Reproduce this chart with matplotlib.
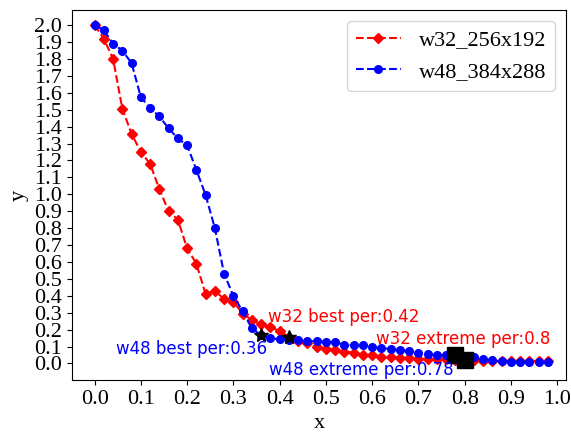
import numpy as np
import matplotlib
matplotlib.use('Agg')
import matplotlib.pyplot as plt

# per ratio grid
x = [0.00, 0.02, 0.04, 0.06, 0.08, 0.10, 0.12, 0.14, 0.16, 0.18,
     0.20, 0.22, 0.24, 0.26, 0.28, 0.30, 0.32, 0.34, 0.36, 0.38,
     0.40, 0.42, 0.44, 0.46, 0.48, 0.50, 0.52, 0.54, 0.56, 0.58,
     0.60, 0.62, 0.64, 0.66, 0.68, 0.70, 0.72, 0.74, 0.76, 0.78,
     0.80, 0.82, 0.84, 0.86, 0.88, 0.90, 0.92, 0.94, 0.96, 0.98]

y_w32 = [2.0, 1.92, 1.80, 1.505, 1.357, 1.25, 1.18, 1.03, 0.90, 0.85,
         0.68, 0.59, 0.41, 0.43, 0.38, 0.365, 0.295, 0.256, 0.232, 0.213,
         0.193, 0.157, 0.133, 0.118, 0.095, 0.085, 0.079, 0.069, 0.064, 0.050,
         0.047, 0.040, 0.039, 0.034, 0.030, 0.029, 0.026, 0.025, 0.024, 0.022,
         0.020, 0.018, 0.017, 0.016, 0.015, 0.014, 0.013, 0.013, 0.012, 0.012]

y_w48 = [2.0, 1.97, 1.89, 1.85, 1.775, 1.574, 1.51, 1.46, 1.39, 1.33,
         1.29, 1.145, 0.996, 0.80, 0.53, 0.40, 0.308, 0.207, 0.167, 0.148,
         0.143, 0.140, 0.138, 0.132, 0.131, 0.128, 0.125, 0.110, 0.108, 0.110,
         0.098, 0.089, 0.087, 0.077, 0.071, 0.062, 0.053, 0.050, 0.049, 0.052,
         0.045, 0.035, 0.025, 0.018, 0.012, 0.011, 0.010, 0.010, 0.010, 0.010]

w32_best, w32_extreme = 0.42, 0.80
w48_best, w48_extreme = 0.36, 0.78

serif = 'Liberation Serif'

fig = plt.figure(figsize=(5.71, 4.32), dpi=100)
ax = fig.add_axes([0.126, 0.120, 0.865, 0.857])

ax.plot(x, y_w32, 'r--', marker='D', ms=5, label='w32_256x192')
ax.plot(x, y_w48, 'b--', marker='o', ms=5.5, label='w48_384x288')

i32b = x.index(w32_best)
i48b = x.index(w48_best)
i32e = x.index(w32_extreme)
i48e = x.index(w48_extreme)
ax.plot(x[i48b], y_w48[i48b], 'k*', ms=10)
ax.plot(x[i32b], y_w32[i32b], 'k*', ms=10)
ax.plot(x[i48e], y_w48[i48e], 'ks', ms=11)
ax.plot(x[i32e], y_w32[i32e], 'ks', ms=11)

ax.text(0.374, 0.274, 'w32 best per:' + str(w32_best), color='r', fontsize=12, va='center')
ax.text(0.046, 0.085, 'w48 best per:' + str(w48_best), color='b', fontsize=12, va='center')
ax.text(0.609, 0.143, 'w32 extreme per:' + str(w32_extreme), color='r', fontsize=12, va='center')
ax.text(0.378, -0.036, 'w48 extreme per:' + str(w48_extreme), color='b', fontsize=12, va='center')

ax.set_xlim(-0.049, 1.019)
ax.set_ylim(-0.099, 2.09)
ax.set_xticks(np.round(np.arange(0, 1.01, 0.1), 1))
ax.set_yticks(np.round(np.arange(0, 2.01, 0.1), 1))
for lab in ax.get_xticklabels() + ax.get_yticklabels():
    lab.set_fontfamily(serif)
    lab.set_fontsize(16)
ax.set_xlabel('x', fontfamily=serif, fontsize=16)
ax.set_ylabel('y', fontfamily=serif, fontsize=16)

ax.legend(loc='upper right', prop={'family': serif, 'size': 16})

fig.savefig('out.png', dpi=100)
